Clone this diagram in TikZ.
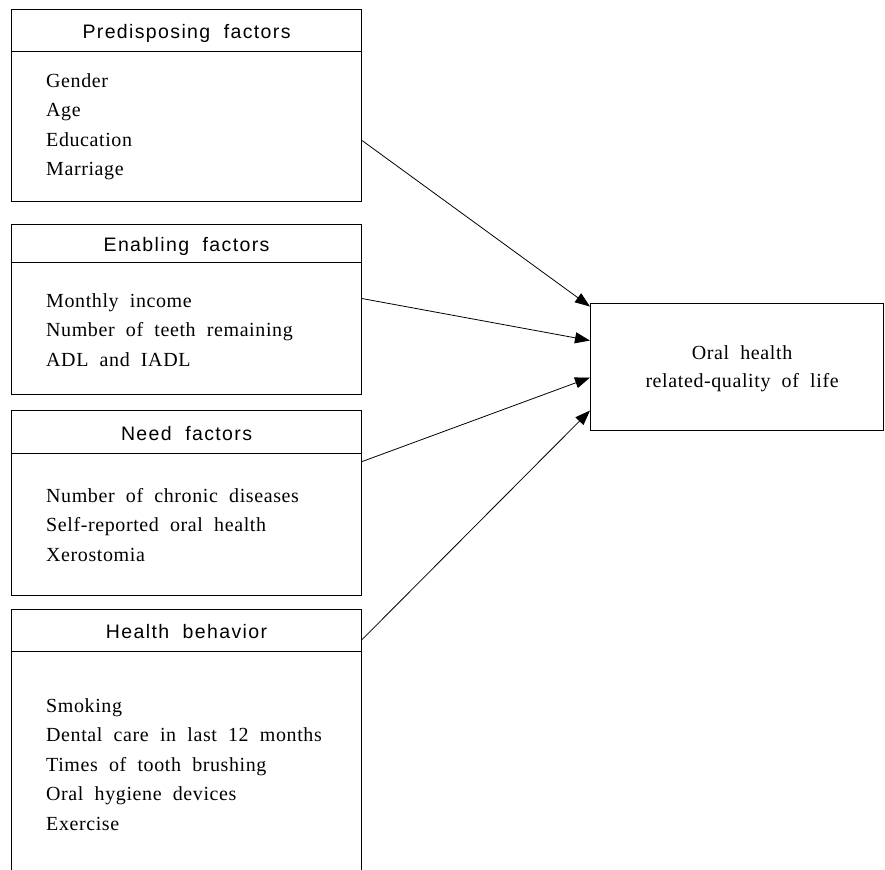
\documentclass[tikz,border=0pt]{standalone}
\usepackage{fontspec}
\setmainfont{Liberation Serif}[WordSpace=2,LetterSpace=3]
\newfontfamily\headfont{Liberation Sans}[WordSpace=2,LetterSpace=7]
\usetikzlibrary{arrows.meta}
\usetikzlibrary{positioning}

\begin{document}
\begin{tikzpicture}[x=1pt,y=-1pt]
	\useasboundingbox (0,0) rectangle (885,869);
	\clip (0,0) rectangle (885,869);
	% factor boxes
	\begin{scope}[every node/.style={rectangle,draw,line width=1.1pt,inner sep=0pt,
	              minimum width=350pt,anchor=north west}]
		\node[minimum height=192pt] (pre) at (11,8.7) {};
		\node[minimum height=169.7pt] (ena) at (11,224.3) {};
		\node[minimum height=185pt] (need) at (11,410) {};
		\node[minimum height=280pt] (hb) at (11,609) {};
		\node[minimum width=293pt,minimum height=127.3pt] (oral) at (590,302.7) {};
	\end{scope}

	% headers
	\begin{scope}[every node/.style={rectangle,draw,line width=1.1pt,inner sep=0pt,
	              minimum width=350pt,minimum height=42pt,text height=16pt,text depth=0pt,
	              anchor=north west,font=\headfont\fontsize{19.5}{22}\selectfont}]
		\node (prehead) at (pre.north west) {Predisposing factors};
		\node[minimum height=37.4pt] (enahead) at (ena.north west) {Enabling factors};
		\node[minimum height=43pt] (needhead) at (need.north west) {Need factors};
		\node (hbhead) at (hb.north west) {Health behavior};
	\end{scope}

	% items
	\begin{scope}[every node/.style={inner sep=0pt,align=left,anchor=north west,
	              font=\fontsize{20}{29.5}\selectfont}]
		\node (preitems) at (46,73.3) {Gender\\Age\\Education\\Marriage};
		\node (enaitems) at (46,293) {Monthly income\\Number of teeth remaining\\ADL and IADL};
		\node (needitems) at (46,488) {Number of chronic diseases\\Self-reported oral health\\Xerostomia};
		\node (hbitems) at (46,698) {Smoking\\Dental care in last 12 months\\Times of tooth brushing\\Oral hygiene devices\\Exercise};
		\node[align=center,anchor=center,font=\fontsize{20}{28.3}\selectfont] (oraltext) at ([xshift=5pt,yshift=-2pt]oral.center) {Oral health\\related-quality of life};
	\end{scope}

	\begin{scope}[>={Triangle[length=15pt,width=11pt]},
	              every edge/.style={draw=black,line width=0.8pt}]
		\path ([yshift=-35.3pt]pre.east) edge[->] ([yshift=60.35pt]oral.west);
		\path ([yshift=11.15pt]ena.east) edge[->] ([yshift=26.35pt]oral.west);
		\path ([yshift=41.5pt]need.east) edge[->] ([yshift=-10.65pt]oral.west);
		\path ([yshift=-9pt]hbhead.east) edge[->] ([yshift=-43.65pt]oral.west);
	\end{scope}
\end{tikzpicture}
\end{document}
